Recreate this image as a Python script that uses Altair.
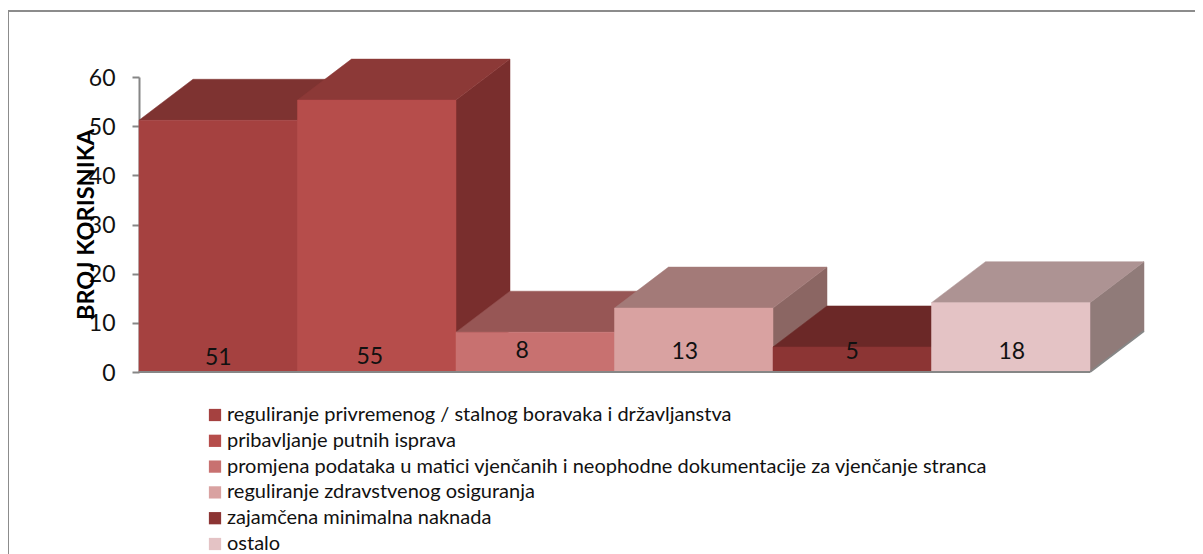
import altair as alt
import pandas as pd

categories = [
    "reguliranje privremenog / stalnog boravaka i državljanstva",
    "pribavljanje putnih isprava",
    "promjena podataka u matici vjenčanih i neophodne dokumentacije za vjenčanje stranca",
    "reguliranje zdravstvenog osiguranja",
    "zajamčena minimalna naknada",
    "ostalo",
]
heights = [51.2, 55.3, 8.1, 13.0, 5.1, 14.1]
labels = ["51", "55", "8", "13", "5", "18"]
front = ["#A54140", "#B64D4B", "#C87170", "#D9A2A1", "#8C3534", "#E4C3C5"]
top = ["#7E3331", "#8C3937", "#975655", "#A37A78", "#6B2827", "#AD9393"]
side = ["#7B312F", "#792E2D", "#8F4F4E", "#8B6663", "#662625", "#907B79"]
label_shift = [(0, -14), (-7, -15), (-13, -21), (-9, -20), (0, -20), (1, -20)]

DX = 54 / 158.5
DY = 41 / (295 / 60)
W = 1006
H = 295
x_scale = alt.Scale(domain=[0, W / 158.5], range=[0, W], nice=False, zero=False)
y_scale = alt.Scale(domain=[0, 60], nice=False, zero=False)
FONT = "Lato"

y_axis = alt.Axis(
    values=[0, 10, 20, 30, 40, 50, 60],
    title="BROJ KORISNIKA",
    titleFont=FONT,
    titleFontSize=23.5,
    titleFontWeight="bold",
    titleColor="#000000",
    titleX=-41,
    titleY=147,
    labelFont=FONT,
    labelFontSize=23,
    labelColor="#111111",
    labelPadding=17,
    labelOffset=1,
    labelOverlap=False,
    labelBound=False,
    labelFlush=False,
    tickSize=7,
    tickWidth=2,
    tickColor="#868686",
    domainColor="#868686",
    domainWidth=2,
    grid=False,
)


def X(f):
    return alt.X(f, type="quantitative", scale=x_scale, axis=None)


def Y(f):
    return alt.Y(f, type="quantitative", scale=y_scale, axis=y_axis)


layers = []

for i in range(6):
    v = heights[i]
    side_df = pd.DataFrame(
        {"x": [i + 1, i + 1 + DX], "y": [0, DY], "y2": [v, v + DY]}
    )
    top_df = pd.DataFrame(
        {"y": [v, v + DY], "x": [i, i + DX], "x2": [i + 1, i + 1 + DX]}
    )
    front_df = pd.DataFrame(
        {"x": [i], "x2": [i + 1], "y": [0], "y2": [v], "category": [categories[i]]}
    )
    layers.append(
        alt.Chart(side_df)
        .mark_area(color=side[i], stroke=side[i], strokeWidth=0.5, clip=False)
        .encode(x=X("x"), y=Y("y"), y2="y2:Q")
    )
    layers.append(
        alt.Chart(top_df)
        .mark_area(orient="horizontal", color=top[i], stroke=top[i], strokeWidth=0.5, clip=False)
        .encode(y=Y("y"), x=X("x"), x2="x2:Q")
    )
    layers.append(
        alt.Chart(front_df)
        .mark_rect(stroke=front[i], strokeWidth=0.5)
        .encode(
            x=X("x"),
            x2="x2:Q",
            y=Y("y"),
            y2="y2:Q",
            color=alt.Color(
                "category:N",
                scale=alt.Scale(domain=categories, range=front),
                sort=categories,
                legend=alt.Legend(
                    title=None,
                    orient="none",
                    legendX=66,
                    legendY=328,
                    direction="vertical",
                    symbolType="square",
                    symbolSize=150,
                    symbolStrokeWidth=0,
                    labelFont=FONT,
                    labelFontSize=20,
                    labelColor="#111111",
                    labelLimit=900,
                    rowPadding=5.8,
                    labelOffset=2,
                ),
            ),
        )
    )

# floor line along the bottom and its receding right edge
layers.append(
    alt.Chart(pd.DataFrame({"x": [0], "x2": [6], "y": [0]}))
    .mark_rule(color="#868686", strokeWidth=2)
    .encode(x=X("x"), x2="x2:Q", y=Y("y"))
)
layers.append(
    alt.Chart(pd.DataFrame({"x": [6, 6 + DX], "y": [0, DY]}))
    .mark_line(color="#868686", strokeWidth=2, clip=False)
    .encode(x=X("x"), y=Y("y"))
)

# value labels
for i in range(6):
    dx, dy = label_shift[i]
    layers.append(
        alt.Chart(pd.DataFrame({"x": [i + 0.5], "y": [0], "t": [labels[i]]}))
        .mark_text(font=FONT, fontSize=23, color="#111111", dx=dx, dy=dy, baseline="middle")
        .encode(x=X("x"), y=Y("y"), text="t:N")
    )

# outer frame of the chart
layers.append(
    alt.Chart(pd.DataFrame({"a": [0]}))
    .mark_rule(color="#8C8C8C", strokeWidth=2)
    .encode(x=alt.value(-131), y=alt.value(-66), y2=alt.value(477))
)
layers.append(
    alt.Chart(pd.DataFrame({"a": [0]}))
    .mark_rule(color="#8C8C8C", strokeWidth=2)
    .encode(x=alt.value(-131), x2=alt.value(1056), y=alt.value(-66))
)

chart = (
    alt.layer(*layers)
    .resolve_scale(color="shared")
    .properties(
        width=W,
        height=H,
        padding={"left": 131, "top": 69, "right": 50, "bottom": 182},
        autosize=alt.AutoSizeParams(type="none"),
    )
    .configure_view(stroke=None)
)
chart.save("out.html", embed_options={"renderer": "svg", "actions": False})
